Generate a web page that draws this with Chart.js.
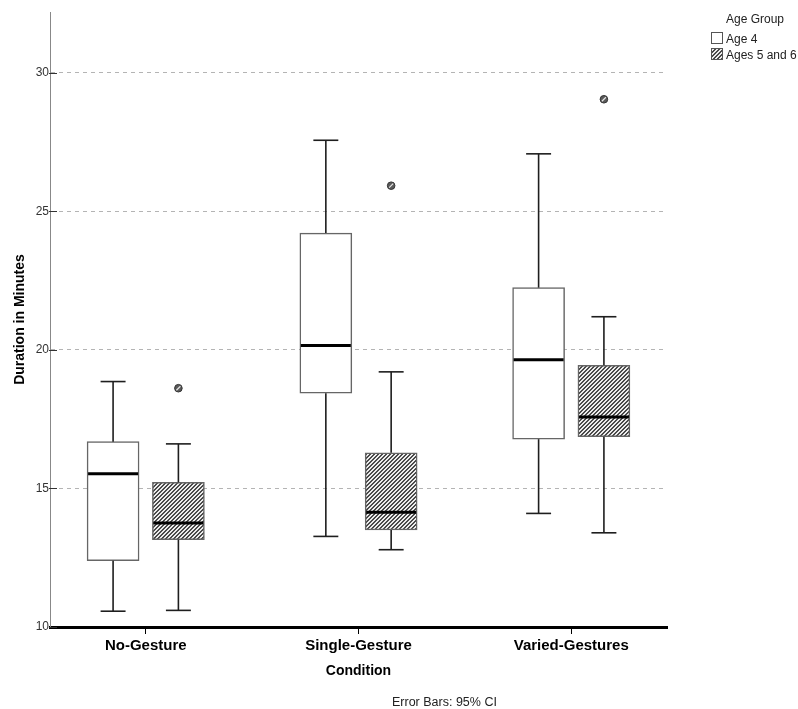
<!DOCTYPE html>
<html><head><meta charset="utf-8">
<script src="https://cdn.jsdelivr.net/npm/chart.js@4"></script>
<style>html,body{margin:0;padding:0;background:#fff;}canvas{display:block;}</style>
</head><body>
<canvas id="c" width="798" height="709"></canvas>
<script>
const categories = ['No-Gesture', 'Single-Gesture', 'Varied-Gestures'];
const groups = ['Age 4', 'Ages 5 and 6'];
const yTicks = [10, 15, 20, 25, 30];

const age4Min = [10.57, 13.27, 14.10];
const age4Q1 = [12.39, 18.44, 16.78];
const age4Median = [15.53, 20.16, 19.65];
const age4Q3 = [16.69, 24.22, 22.25];
const age4Max = [18.86, 27.57, 27.08];
const age4Outliers = [[], [], []];

const age56Min = [10.60, 12.79, 13.40];
const age56Q1 = [13.15, 13.50, 16.87];
const age56Median = [13.75, 14.14, 17.58];
const age56Q3 = [15.22, 16.29, 19.45];
const age56Max = [16.61, 19.21, 21.20];
const age56Outliers = [[18.62], [25.93], [29.05]];

const FONT = "'Liberation Sans', Arial, sans-serif";
Chart.defaults.font.family = FONT;

const stats = [
  {min: age4Min, q1: age4Q1, med: age4Median, q3: age4Q3, max: age4Max, out: age4Outliers},
  {min: age56Min, q1: age56Q1, med: age56Median, q3: age56Q3, max: age56Max, out: age56Outliers}
];

function makeHatch(light, dark) {
  const c = document.createElement('canvas');
  c.width = 4; c.height = 4;
  const g = c.getContext('2d');
  g.fillStyle = light; g.fillRect(0, 0, 4, 4);
  g.fillStyle = dark;
  for (let r = 0; r < 4; r++) {
    g.fillRect((7 - r) % 4, r, 1, 1);
    g.fillRect((4 - r) % 4, r, 1, 1);
  }
  return g.createPattern(c, 'repeat');
}
const hatch = makeHatch('#ececec', '#4a4a4a');

const groupOffset = [-0.1535, 0.1535];
function boxData(s, g) {
  return categories.map((c, i) => ({x: i + groupOffset[g], y: [s.q1[i], s.q3[i]]}));
}

function line(ctx, x1, y1, x2, y2) {
  ctx.beginPath(); ctx.moveTo(x1, y1); ctx.lineTo(x2, y2); ctx.stroke();
}

const boxPlugin = {
  id: 'boxplot',
  afterDatasetsDraw(chart) {
    const {ctx, scales: {y}} = chart;
    stats.forEach((s, g) => {
      const meta = chart.getDatasetMeta(g);
      meta.data.forEach((bar, i) => {
        const cx = bar.x, w = bar.width;
        const pMin = y.getPixelForValue(s.min[i]);
        const pQ1 = y.getPixelForValue(s.q1[i]);
        const pMed = y.getPixelForValue(s.med[i]);
        const pQ3 = y.getPixelForValue(s.q3[i]);
        const pMax = y.getPixelForValue(s.max[i]);
        ctx.save();
        ctx.strokeStyle = '#1e1e1e';
        ctx.lineWidth = 1.6;
        line(ctx, cx, pQ3, cx, pMax);
        line(ctx, cx - w * 0.24, pMax, cx + w * 0.24, pMax);
        line(ctx, cx, pQ1, cx, pMin);
        line(ctx, cx - w * 0.24, pMin, cx + w * 0.24, pMin);
        ctx.strokeStyle = '#000';
        ctx.lineWidth = 3;
        line(ctx, cx - w / 2 + 1, pMed, cx + w / 2 - 1, pMed);
        s.out[i].forEach(v => {
          const py = y.getPixelForValue(v);
          ctx.beginPath();
          ctx.arc(cx, py, 3.8, 0, Math.PI * 2);
          ctx.fillStyle = '#5a5a5a'; ctx.fill();
          ctx.lineWidth = 1; ctx.strokeStyle = '#333'; ctx.stroke();
          ctx.strokeStyle = '#e8e8e8'; ctx.lineWidth = 1.2;
          line(ctx, cx - 2, py + 2, cx + 2, py - 2);
        });
        ctx.restore();
      });
    });
    // inner y tick marks
    const left = chart.chartArea.left;
    ctx.save();
    ctx.strokeStyle = '#333'; ctx.lineWidth = 1;
    yTicks.forEach(v => {
      const py = Math.round(y.getPixelForValue(v)) + 0.5;
      line(ctx, left - 1, py, left + 7, py);
    });
    ctx.restore();
  },
  afterDraw(chart) {
    const ctx = chart.ctx;
    ctx.save();
    ctx.fillStyle = '#222';
    ctx.font = '12px ' + FONT;
    ctx.textBaseline = 'alphabetic';
    ctx.textAlign = 'left';
    ctx.fillText('Age Group', 726, 23);
    const items = [{fill: '#fff'}, {fill: hatch}];
    items.forEach((it, k) => {
      const by = 32 + k * 16;
      ctx.fillStyle = it.fill;
      ctx.fillRect(711, by, 12, 12);
      ctx.strokeStyle = '#555'; ctx.lineWidth = 1;
      ctx.strokeRect(711.5, by + 0.5, 11, 11);
      ctx.fillStyle = '#222';
      ctx.fillText(groups[k], 726, by + 11);
    });
    ctx.font = '12.5px ' + FONT;
    ctx.fillText('Error Bars: 95% CI', 392, 706);
    ctx.restore();
  }
};

new Chart(document.getElementById('c').getContext('2d'), {
  type: 'bar',
  data: {
    datasets: [
      {label: groups[0], data: boxData(stats[0], 0), backgroundColor: '#ffffff', borderColor: '#666', borderWidth: 1.5, borderSkipped: false},
      {label: groups[1], data: boxData(stats[1], 1), backgroundColor: hatch, borderColor: '#666', borderWidth: 1.5, borderSkipped: false}
    ]
  },
  options: {
    responsive: false,
    devicePixelRatio: 1,
    animation: false,
    layout: {padding: {top: 12, right: 131, left: 0, bottom: 0}},
    datasets: {bar: {grouped: false, barThickness: 52}},
    plugins: {legend: {display: false}, tooltip: {enabled: false}},
    scales: {
      x: {
        type: 'linear', min: -0.45, max: 2.45, offset: false,
        afterFit(s) { s.height = 82; },
        afterBuildTicks(s) { s.ticks = categories.map((c, i) => ({value: i})); },
        ticks: {callback: v => categories[v], font: {size: 15, weight: 'bold'}, color: '#000', padding: 3, autoSkip: false, maxRotation: 0},
        grid: {offset: false, drawOnChartArea: false, drawTicks: true, tickLength: 7, tickColor: '#000', tickWidth: 1},
        border: {color: '#000', width: 3},
        title: {display: true, text: 'Condition', color: '#000', font: {size: 14, weight: 'bold'}, padding: {top: 0, bottom: 29}}
      },
      y: {
        min: 10, max: 32.2,
        afterFit(s) { s.width = 50; },
        afterBuildTicks(s) { s.ticks = yTicks.map(v => ({value: v})); },
        ticks: {font: {size: 12}, color: '#333', padding: 1},
        grid: {drawTicks: false, color: c => (c.tick && c.tick.value === 10) ? 'rgba(0,0,0,0)' : '#b4b4b4', lineWidth: 1},
        border: {color: '#888', width: 1, dash: [4, 4]},
        title: {display: true, text: 'Duration in Minutes', color: '#000', font: {size: 14, weight: 'bold'}, padding: {top: 11.6, bottom: 0}}
      }
    }
  },
  plugins: [boxPlugin]
});
</script>
</body></html>
